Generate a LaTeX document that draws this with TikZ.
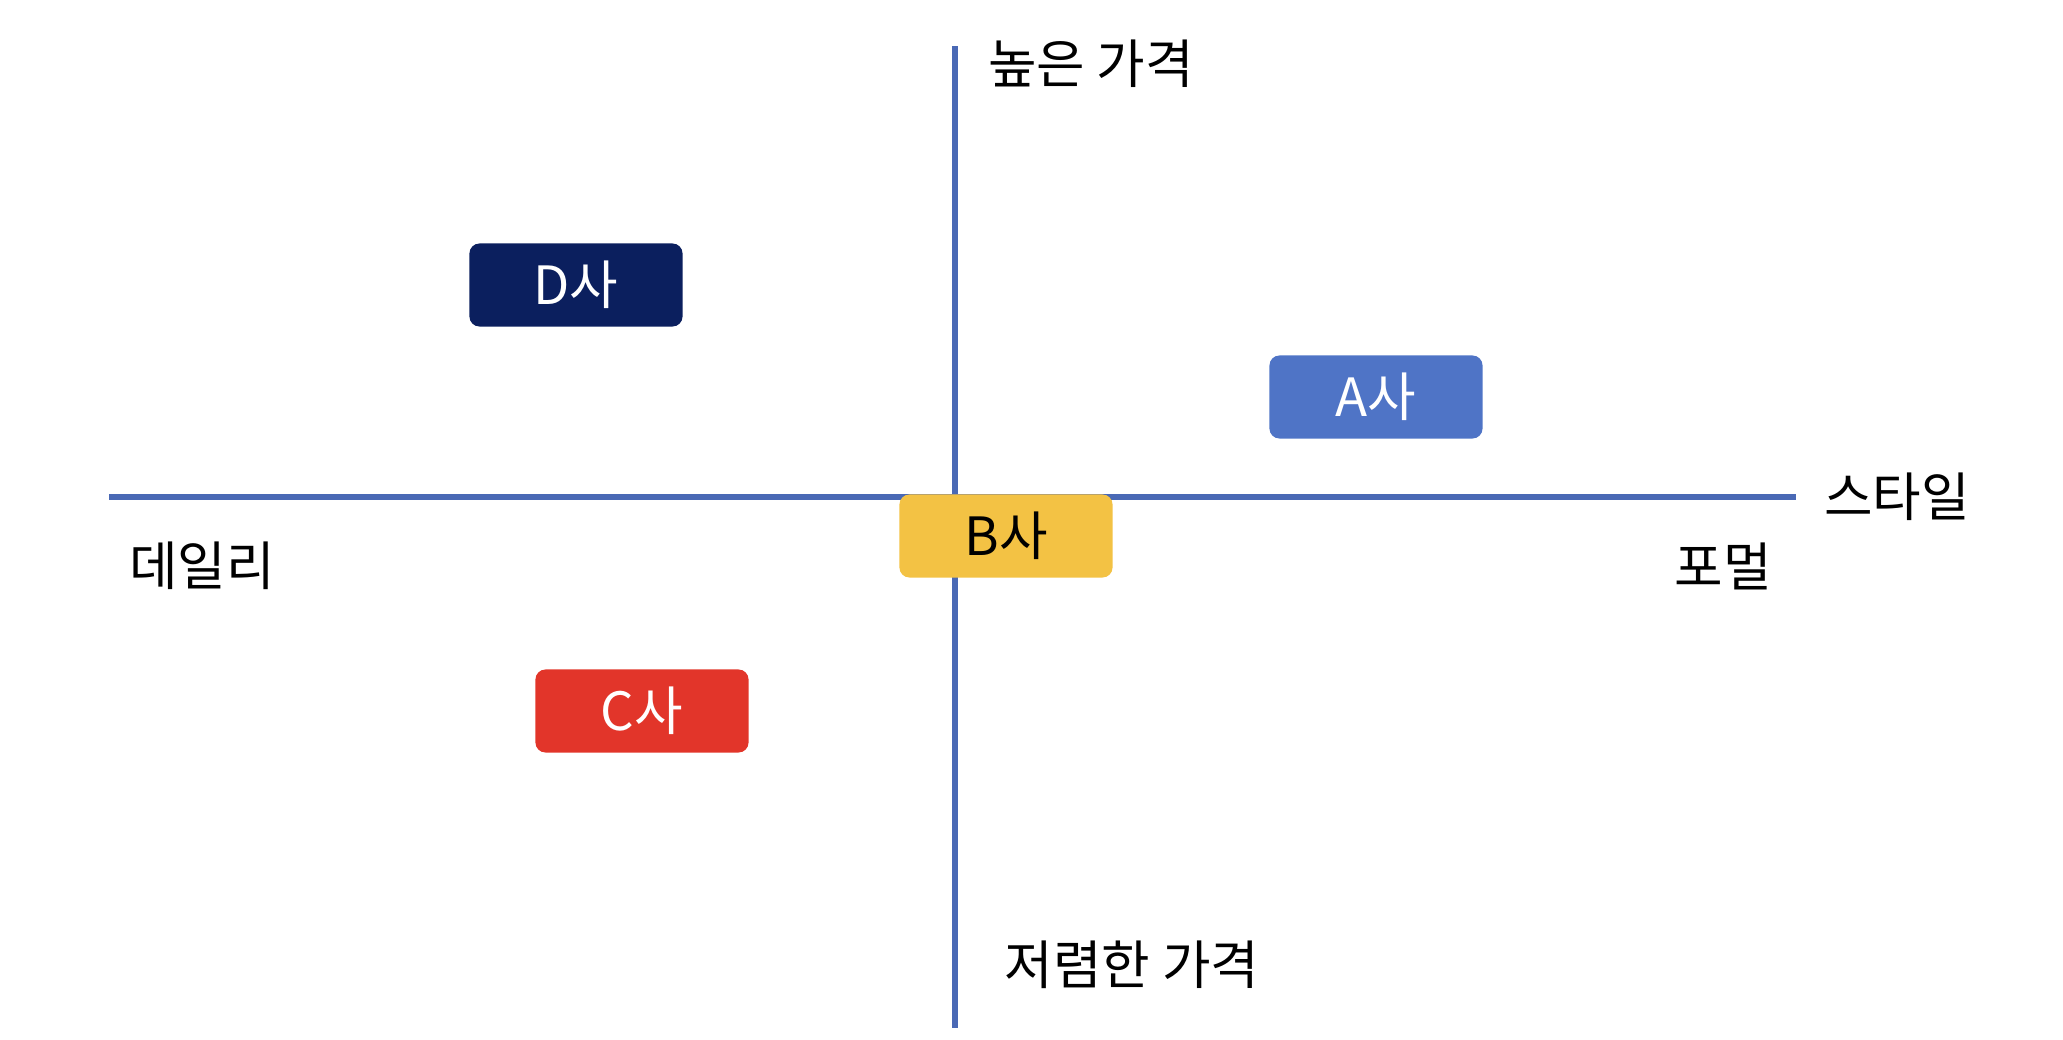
\documentclass[tikz,border=0pt]{standalone}
\usepackage{fontspec}
\setmainfont{Noto Sans CJK KR}
\usetikzlibrary{positioning}
\definecolor{axisblue}{HTML}{4A69B5}
\definecolor{navy}{HTML}{0B1F5E}
\definecolor{blue}{HTML}{4F74C6}
\definecolor{yellow}{HTML}{F3C244}
\definecolor{red}{HTML}{E2352A}

\tikzset{
	brand/.style={rounded corners=0.1cm,minimum width=2.13cm,minimum height=0.83cm,inner sep=0pt,font=\fontsize{15}{18}\selectfont},
	axislabel/.style={inner sep=0pt,font=\fontsize{15}{18}\selectfont},
}

\begin{document}
\begin{tikzpicture}[x=0.01cm,y=-0.01cm]
		\useasboundingbox (0,0) rectangle (2063,1039);
		
		% axes
		\coordinate (top) at (955,46);
		\coordinate (bottom) at (955,1028);
		\coordinate (left) at (109,497);
		\coordinate (right) at (1796,497);
		\draw[axisblue,line width=1.5pt] (top) -- (bottom);
		\draw[axisblue,line width=1.5pt] (left) -- (right);
		
		% axis labels
		\node[axislabel] (high) at (1091,64) {높은 가격};
		\node[axislabel] (low) at (1132,965) {저렴한 가격};
		\node[axislabel] (style) at (1897,497) {스타일};
		\node[axislabel] (formal) at (1723,566) {포멀};
		\node[axislabel] (daily) at (202,566) {데일리};
		
		% brands
		\node[brand,fill=navy,text=white] (d) at (576,285) {D사};
		\node[brand,fill=blue,text=white] (a) at (1376,397) {A사};
		\node[brand,fill=yellow,text=black] (b) at (1006,536) {B사};
		\node[brand,fill=red,text=white] (c) at (642,711) {C사};
	\end{tikzpicture}
\end{document}
